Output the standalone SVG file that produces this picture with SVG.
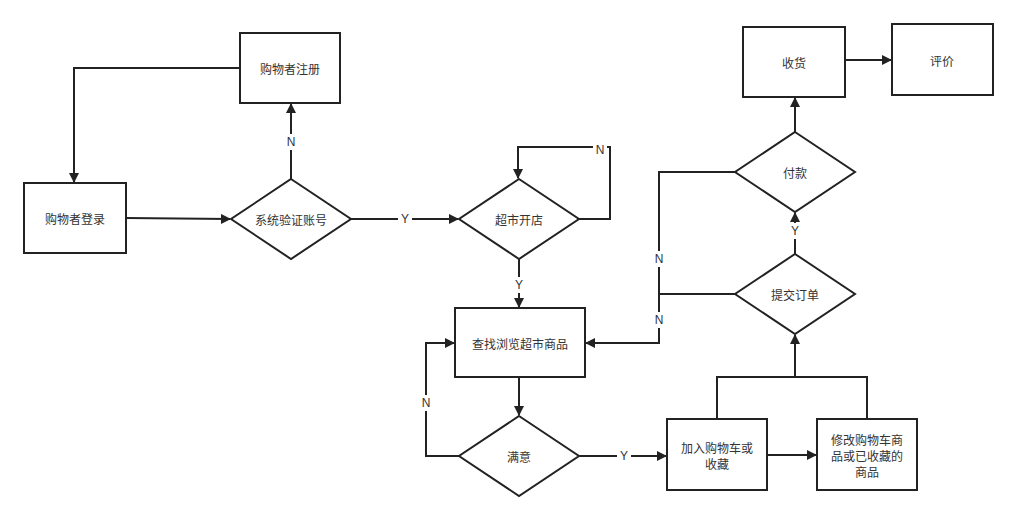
<svg xmlns="http://www.w3.org/2000/svg" width="1017" height="520" viewBox="0 0 1017 520">
<style>
.n{fill:#fff;stroke:#222;stroke-width:2}
.t{font-family:"Noto Sans CJK SC","Liberation Sans",sans-serif;font-size:12px;fill:#333;text-anchor:middle;dominant-baseline:central}
.c{fill:none;stroke:#222;stroke-width:2}
.l{font-family:"Liberation Sans",sans-serif;font-size:12px;fill:#333;text-anchor:middle;dominant-baseline:central}
.lb{fill:#fff}
</style>
<defs><marker id="a" markerWidth="10" markerHeight="10" refX="9" refY="5" orient="auto" markerUnits="userSpaceOnUse" viewBox="0 0 10 10"><path d="M0,0L10,5L0,10z" fill="#222"/></marker></defs>
<rect width="1017" height="520" fill="#fff"/>
<g id="connectors">
<path class="c" d="M291,179V104" marker-end="url(#a)"/>
<path class="c" d="M240,68H74V182" marker-end="url(#a)"/>
<path class="c" d="M126,218L230,219" marker-end="url(#a)"/>
<path class="c" d="M351,219H458" marker-end="url(#a)"/>
<path class="c" d="M579,219H610V147H518V178" marker-end="url(#a)"/>
<path class="c" d="M519,259V307" marker-end="url(#a)"/>
<path class="c" d="M519,377V415" marker-end="url(#a)"/>
<path class="c" d="M459,456H426V343H454" marker-end="url(#a)"/>
<path class="c" d="M579,456H666" marker-end="url(#a)"/>
<path class="c" d="M767,455H816" marker-end="url(#a)"/>
<path class="c" d="M717,419V377H867V419"/>
<path class="c" d="M795,377V335" marker-end="url(#a)"/>
<path class="c" d="M795,254V213" marker-end="url(#a)"/>
<path class="c" d="M795,132V98" marker-end="url(#a)"/>
<path class="c" d="M845,60H891" marker-end="url(#a)"/>
<path class="c" d="M735,172H659V343H586" marker-end="url(#a)"/>
<path class="c" d="M735,294H659"/>
<g class="lb"><rect x="284" y="134" width="14" height="16"/><rect x="398" y="211" width="14" height="16"/><rect x="593" y="142" width="14" height="16"/><rect x="512" y="277" width="14" height="16"/><rect x="419" y="395" width="14" height="16"/><rect x="617" y="448" width="14" height="16"/><rect x="788" y="223" width="14" height="16"/><rect x="652" y="251" width="14" height="16"/><rect x="652" y="312" width="14" height="16"/></g>
<text class="l" x="291" y="142">N</text><text class="l" x="405" y="219">Y</text><text class="l" x="600" y="150">N</text><text class="l" x="519" y="285">Y</text><text class="l" x="426" y="403">N</text><text class="l" x="624" y="456">Y</text><text class="l" x="795" y="231">Y</text><text class="l" x="659" y="259">N</text><text class="l" x="659" y="320">N</text>
</g>
<g id="reg"><rect class="n" x="240" y="33" width="100" height="70"/><text class="t" x="290" y="68">购物者注册</text></g>
<g id="login"><rect class="n" x="24" y="183" width="102" height="70"/><text class="t" x="75" y="218">购物者登录</text></g>
<g id="verify"><path class="n" d="M291,179L351,219L291,259L231,219z"/><text class="t" x="291" y="219">系统验证账号</text></g>
<g id="open"><path class="n" d="M519,179L579,219L519,259L459,219z"/><text class="t" x="519" y="219">超市开店</text></g>
<g id="browse"><rect class="n" x="455" y="308" width="130" height="69"/><text class="t" x="520" y="343">查找浏览超市商品</text></g>
<g id="ok"><path class="n" d="M519,416L579,456L519,496L459,456z"/><text class="t" x="519" y="456">满意</text></g>
<g id="cart"><rect class="n" x="667" y="419" width="100" height="71"/><text class="t" x="717" y="447">加入购物车或</text><text class="t" x="717" y="463">收藏</text></g>
<g id="modify"><rect class="n" x="817" y="419" width="100" height="71"/><text class="t" x="867" y="439">修改购物车商</text><text class="t" x="867" y="455">品或已收藏的</text><text class="t" x="867" y="471">商品</text></g>
<g id="submit"><path class="n" d="M795,254L855,294L795,334L735,294z"/><text class="t" x="795" y="294">提交订单</text></g>
<g id="pay"><path class="n" d="M795,132L855,172L795,212L735,172z"/><text class="t" x="795" y="172">付款</text></g>
<g id="recv"><rect class="n" x="743" y="27" width="102" height="70"/><text class="t" x="794" y="62">收货</text></g>
<g id="rate"><rect class="n" x="892" y="24" width="101" height="71"/><text class="t" x="942" y="60">评价</text></g>
</svg>
